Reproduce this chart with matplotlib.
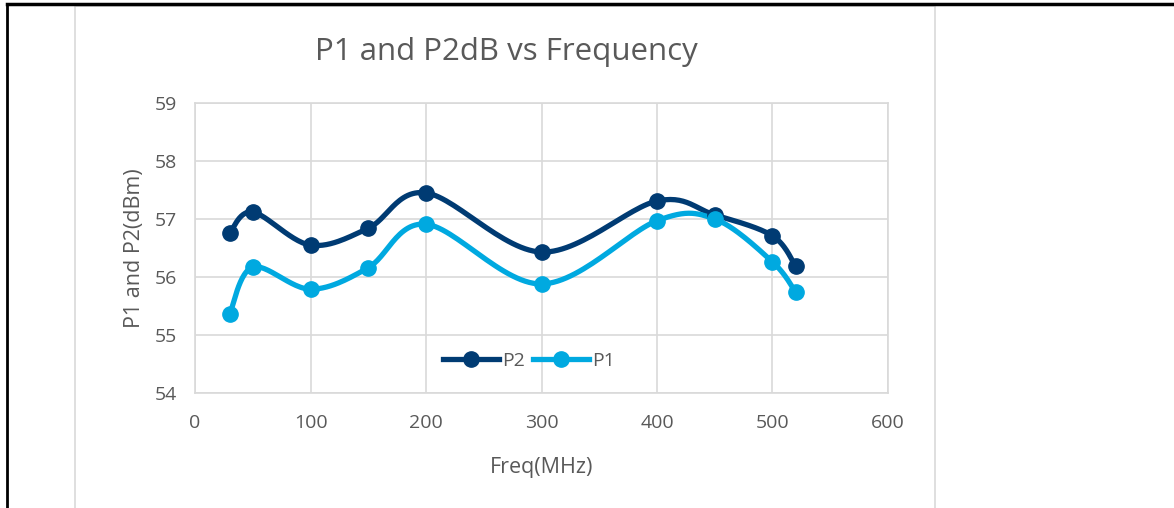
import numpy as np
import matplotlib
matplotlib.use('Agg')
import matplotlib.pyplot as plt
from matplotlib.lines import Line2D
from matplotlib.patches import Rectangle

#	data
freq = [30, 50, 100, 150, 200, 300, 400, 450, 500, 520]
p2 = [56.76, 57.12, 56.55, 56.84, 57.45, 56.43, 57.31, 57.07, 56.71, 56.19]
p1 = [55.36, 56.17, 55.79, 56.16, 56.91, 55.88, 56.97, 57.00, 56.26, 55.74]

xticks = [0, 100, 200, 300, 400, 500, 600]
yticks = [54, 55, 56, 57, 58, 59]

plt.rcParams['font.family'] = ['Open Sans', 'DejaVu Sans']

#	smooth line like excel (catmull-rom bezier)
def smooth(x, y, n=30):
	pts = np.column_stack([x, y]).astype(float)
	out = []
	for i in range(len(pts) - 1):
		p0 = pts[i - 1] if i > 0 else pts[i]
		p1_ = pts[i]
		p2_ = pts[i + 1]
		p3 = pts[i + 2] if i + 2 < len(pts) else pts[i + 1]
		c1 = p1_ + (p2_ - p0) / 6.0
		c2 = p2_ - (p3 - p1_) / 6.0
		t = np.linspace(0, 1, n)[:, None]
		seg = ((1 - t) ** 3) * p1_ + 3 * ((1 - t) ** 2) * t * c1 + 3 * (1 - t) * t ** 2 * c2 + t ** 3 * p2_
		out.append(seg if i == 0 else seg[1:])
	out = np.vstack(out)
	return out[:, 0], out[:, 1]

fig = plt.figure(figsize=(11.74, 5.08), dpi=100)

#	outer table lines and chart frame
fig.add_artist(Line2D([7 / 1174, 7 / 1174], [0, 1 - 4 / 508], color='black', lw=2))
fig.add_artist(Line2D([7 / 1174, 1], [1 - 4 / 508, 1 - 4 / 508], color='black', lw=2.5))
fig.add_artist(Rectangle((75 / 1174, -0.05), (935 - 75) / 1174, 1.05 - 6 / 508,
	transform=fig.transFigure, fill=False, edgecolor='#d9d9d9', lw=1.2))

ax = fig.add_axes([195 / 1174, 1 - 393 / 508, (888 - 195) / 1174, (393 - 103) / 508])

dark = '#003b73'
light = '#00a9e0'

sx, sy = smooth(freq, p2)
ax.plot(sx, sy, color=dark, lw=3.8, solid_capstyle='round', zorder=3)
ax.plot(freq, p2, 'o', color=dark, ms=11, zorder=4)
sx, sy = smooth(freq, p1)
ax.plot(sx, sy, color=light, lw=3.8, solid_capstyle='round', zorder=3)
ax.plot(freq, p1, 'o', color=light, ms=11, zorder=4)

ax.set_xlim(0, 600)
ax.set_ylim(54, 59)
ax.set_xticks(xticks)
ax.set_yticks(yticks)
ax.grid(True, color='#d9d9d9', lw=1.2)
ax.set_axisbelow(True)
for s in ax.spines.values():
	s.set_color('#d9d9d9')
	s.set_linewidth(1.2)
ax.tick_params(length=0, labelsize=14, colors='#595959')
ax.tick_params(axis='x', pad=15)
ax.tick_params(axis='y', pad=13)

ax.set_xlabel('Freq(MHz)', fontsize=15.5, color='#595959', labelpad=18)
ax.set_ylabel('P1 and P2(dBm)', fontsize=15.5, color='#595959', labelpad=7)
fig.text(506 / 1174, 1 - 52 / 508, 'P1 and P2dB vs Frequency', ha='center', va='center',
	fontsize=22.5, color='#595959')

handles = [Line2D([], [], color=dark, lw=3.8, marker='o', ms=11),
	Line2D([], [], color=light, lw=3.8, marker='o', ms=11)]
ax.legend(handles, ['P2', 'P1'], loc='center', bbox_to_anchor=(529 / 1174, 1 - 361 / 508),
	bbox_transform=fig.transFigure, ncol=2, frameon=False, fontsize=14,
	handlelength=2.9, columnspacing=0.4, handletextpad=0.15, labelcolor='#595959')

fig.savefig('out.png', dpi=100)
